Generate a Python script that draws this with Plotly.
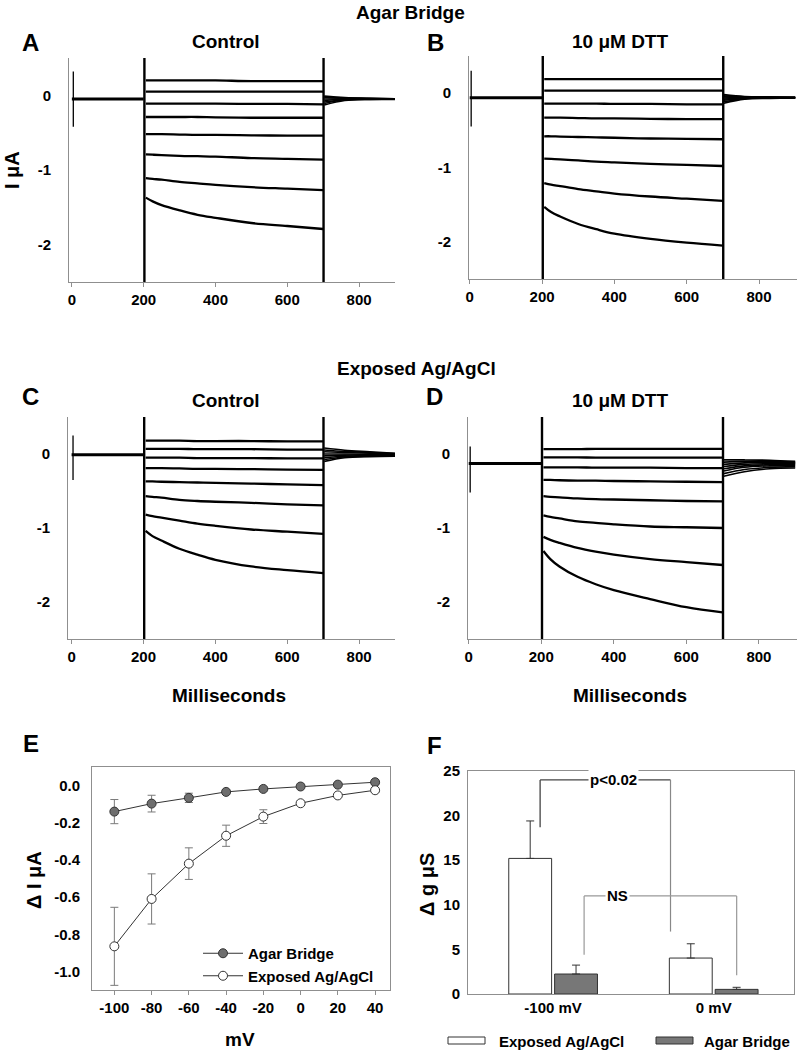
import plotly.graph_objects as go

W, H = 798, 1054
FONT = "Liberation Sans"

# ---------------- data: current traces (µA) ----------------
T_BASE = [0, 200]
T_STEP = [206, 225, 250, 300, 350, 400, 500, 600, 700]
T_TAIL = [703, 760, 830, 900]
T_SPIKE_SMALL = 4
T_SPIKE_ON = 202
T_SPIKE_OFF = 701

A_BASE = -0.05
A_SPIKE = [0.32, -0.42]
A_STEP = [
    [0.20, 0.20, 0.20, 0.20, 0.20, 0.20, 0.19, 0.19, 0.19],
    [0.05, 0.05, 0.05, 0.05, 0.05, 0.05, 0.05, 0.05, 0.05],
    [-0.11, -0.11, -0.11, -0.11, -0.11, -0.11, -0.115, -0.115, -0.12],
    [-0.29, -0.29, -0.29, -0.29, -0.29, -0.295, -0.30, -0.30, -0.30],
    [-0.52, -0.52, -0.52, -0.525, -0.53, -0.53, -0.535, -0.54, -0.54],
    [-0.79, -0.795, -0.80, -0.81, -0.815, -0.82, -0.84, -0.85, -0.86],
    [-1.11, -1.12, -1.13, -1.16, -1.18, -1.20, -1.23, -1.25, -1.27],
    [-1.37, -1.42, -1.47, -1.54, -1.60, -1.64, -1.71, -1.75, -1.79],
]
A_TAIL = [
    [-0.01, -0.03, -0.04, -0.045],
    [-0.02, -0.035, -0.04, -0.045],
    [-0.03, -0.04, -0.045, -0.045],
    [-0.05, -0.045, -0.045, -0.05],
    [-0.07, -0.05, -0.05, -0.05],
    [-0.09, -0.055, -0.05, -0.05],
    [-0.11, -0.06, -0.055, -0.05],
    [-0.13, -0.07, -0.055, -0.055],
]

B_BASE = -0.06
B_SPIKE = [0.30, -0.45]
B_STEP = [
    [0.19, 0.19, 0.19, 0.19, 0.19, 0.19, 0.19, 0.19, 0.19],
    [0.035, 0.035, 0.035, 0.035, 0.035, 0.035, 0.035, 0.035, 0.035],
    [-0.14, -0.14, -0.14, -0.14, -0.14, -0.145, -0.145, -0.15, -0.15],
    [-0.33, -0.33, -0.33, -0.335, -0.34, -0.34, -0.345, -0.35, -0.35],
    [-0.58, -0.58, -0.585, -0.59, -0.595, -0.60, -0.61, -0.615, -0.62],
    [-0.88, -0.885, -0.89, -0.905, -0.92, -0.93, -0.95, -0.965, -0.98],
    [-1.21, -1.23, -1.25, -1.29, -1.32, -1.35, -1.39, -1.42, -1.45],
    [-1.53, -1.60, -1.66, -1.76, -1.83, -1.89, -1.96, -2.01, -2.05],
]
B_TAIL = [
    [-0.02, -0.045, -0.05, -0.055],
    [-0.035, -0.05, -0.055, -0.055],
    [-0.05, -0.055, -0.06, -0.06],
    [-0.065, -0.06, -0.06, -0.06],
    [-0.08, -0.065, -0.06, -0.06],
    [-0.095, -0.07, -0.065, -0.065],
    [-0.115, -0.075, -0.065, -0.065],
    [-0.135, -0.08, -0.07, -0.065],
]

C_BASE = -0.01
C_SPIKE = [0.25, -0.35]
C_STEP = [
    [0.18, 0.18, 0.18, 0.18, 0.175, 0.175, 0.175, 0.17, 0.17],
    [0.07, 0.07, 0.07, 0.07, 0.065, 0.065, 0.065, 0.06, 0.06],
    [-0.05, -0.05, -0.05, -0.05, -0.055, -0.055, -0.055, -0.06, -0.06],
    [-0.19, -0.19, -0.19, -0.195, -0.20, -0.20, -0.205, -0.21, -0.215],
    [-0.37, -0.37, -0.375, -0.38, -0.385, -0.39, -0.40, -0.41, -0.42],
    [-0.57, -0.58, -0.59, -0.62, -0.635, -0.645, -0.66, -0.68, -0.695],
    [-0.82, -0.84, -0.86, -0.90, -0.94, -0.97, -1.02, -1.05, -1.08],
    [-1.04, -1.11, -1.17, -1.28, -1.36, -1.43, -1.52, -1.57, -1.61],
]
C_TAIL = [
    [0.08, 0.05, 0.03, 0.01],
    [0.055, 0.035, 0.02, 0.005],
    [0.03, 0.02, 0.01, 0.0],
    [0.0, 0.0, -0.005, -0.01],
    [-0.025, -0.015, -0.015, -0.015],
    [-0.05, -0.03, -0.025, -0.02],
    [-0.075, -0.04, -0.03, -0.025],
    [-0.10, -0.05, -0.035, -0.03],
]

D_BASE = -0.13
D_SPIKE = [0.10, -0.52]
D_STEP = [
    [0.065, 0.065, 0.065, 0.065, 0.07, 0.07, 0.07, 0.07, 0.07],
    [-0.045, -0.045, -0.045, -0.045, -0.05, -0.05, -0.05, -0.05, -0.05],
    [-0.18, -0.18, -0.18, -0.18, -0.185, -0.185, -0.185, -0.19, -0.19],
    [-0.35, -0.35, -0.355, -0.36, -0.36, -0.365, -0.37, -0.375, -0.38],
    [-0.57, -0.58, -0.585, -0.60, -0.61, -0.615, -0.625, -0.635, -0.64],
    [-0.83, -0.85, -0.87, -0.91, -0.93, -0.95, -0.98, -0.99, -1.00],
    [-1.12, -1.16, -1.20, -1.27, -1.32, -1.36, -1.42, -1.46, -1.50],
    [-1.31, -1.42, -1.52, -1.66, -1.76, -1.84, -1.96, -2.07, -2.14],
]
D_TAIL = [
    [-0.08, -0.08, -0.085, -0.10],
    [-0.11, -0.10, -0.10, -0.11],
    [-0.14, -0.12, -0.115, -0.12],
    [-0.17, -0.14, -0.13, -0.13],
    [-0.20, -0.16, -0.145, -0.14],
    [-0.23, -0.18, -0.16, -0.155],
    [-0.265, -0.21, -0.18, -0.17],
    [-0.30, -0.24, -0.20, -0.19],
]

TRACE_X_TICKS = [0, 200, 400, 600, 800]
TRACE_Y_TICKS = [0, -1, -2]
TRACE_Y_LABELS = ["0", "-1", "-2"]

# ---------------- data: panel E (ΔI vs V) ----------------
E_MV = [-100, -80, -60, -40, -20, 0, 20, 40]
E_AGAR = [-0.14, -0.097, -0.066, -0.034, -0.018, -0.005, 0.005, 0.018]
E_AGAR_ERR = [0.065, 0.045, 0.025, 0.008, 0.006, 0.005, 0.005, 0.005]
E_EXPOSED = [-0.865, -0.61, -0.42, -0.27, -0.167, -0.095, -0.053, -0.025]
E_EXPOSED_ERR = [0.21, 0.135, 0.085, 0.057, 0.037, 0.01, 0.01, 0.01]
E_X_TICKS = [-100, -80, -60, -40, -20, 0, 20, 40]
E_X_LABELS = ["-100", "-80", "-60", "-40", "-20", "0", "20", "40"]
E_Y_TICKS = [0.0, -0.2, -0.4, -0.6, -0.8, -1.0]
E_Y_LABELS = ["0.0", "-0.2", "-0.4", "-0.6", "-0.8", "-1.0"]

# ---------------- data: panel F (Δg bars) ----------------
F_CATS = ["-100 mV", "0 mV"]
F_POS = [0, 1]
F_EXPOSED = [15.2, 4.03]
F_EXPOSED_ERR = [4.2, 1.6]
F_AGAR = [2.24, 0.52]
F_AGAR_ERR = [1.0, 0.23]
F_Y_TICKS = [0, 5, 10, 15, 20, 25]
F_SERIES = ["Exposed Ag/AgCl", "Agar Bridge"]
F_COLORS = ["white", "#777777"]


def fx(px):
    return px / W


def fy(py):
    return 1 - py / H


fig = go.Figure()

AX_LINE = "#8f8f8f"
TICKFONT = dict(family=FONT, size=15, color="black", weight=700)

panels = [
    ("A", A_BASE, A_SPIKE, A_STEP, A_TAIL, (69, 395), (58, 282), [-8, 900]),
    ("B", B_BASE, B_SPIKE, B_STEP, B_TAIL, (469, 797), (56, 279), [-2, 905]),
    ("C", C_BASE, C_SPIKE, C_STEP, C_TAIL, (68, 395), (417, 639), [-10, 900]),
    ("D", D_BASE, D_SPIKE, D_STEP, D_TAIL, (468, 797), (417, 639), [-2, 905]),
]

layout_axes = {}
for i, (name, base, spike, steps, tails, (x0, x1), (y0, y1), xr) in enumerate(panels):
    n = i + 1
    xa = "x" if n == 1 else f"x{n}"
    ya = "y" if n == 1 else f"y{n}"
    fig.add_trace(go.Scatter(x=T_BASE, y=[base, base], mode="lines",
                             line=dict(color="black", width=3), xaxis=xa, yaxis=ya,
                             showlegend=False, hoverinfo="skip"))
    for s, tl in zip(steps, tails):
        fig.add_trace(go.Scatter(x=T_STEP, y=s, mode="lines", line=dict(color="black", width=2.3, shape="spline"),
                                 xaxis=xa, yaxis=ya, showlegend=False, hoverinfo="skip"))
        fig.add_trace(go.Scatter(x=T_TAIL, y=tl, mode="lines", line=dict(color="black", width=1.6, shape="spline"),
                                 xaxis=xa, yaxis=ya, showlegend=False, hoverinfo="skip"))
    fig.add_trace(go.Scatter(x=[T_SPIKE_SMALL, T_SPIKE_SMALL], y=spike, mode="lines",
                             line=dict(color="black", width=1.3), xaxis=xa, yaxis=ya,
                             showlegend=False, hoverinfo="skip"))
    fig.add_trace(go.Scatter(x=[T_SPIKE_ON, T_SPIKE_ON, None, T_SPIKE_OFF, T_SPIKE_OFF],
                             y=[0.6, -2.6, None, 0.6, -2.6], mode="lines",
                             line=dict(color="black", width=2.4), xaxis=xa, yaxis=ya,
                             showlegend=False, hoverinfo="skip"))
    layout_axes["xaxis" if n == 1 else f"xaxis{n}"] = dict(
        domain=[fx(x0), fx(x1)], anchor=ya, range=xr, tickvals=TRACE_X_TICKS,
        showline=True, linecolor=AX_LINE, linewidth=1, ticks="outside", ticklen=4,
        tickcolor=AX_LINE, showgrid=False, zeroline=False, tickfont=TICKFONT, automargin=False)
    layout_axes["yaxis" if n == 1 else f"yaxis{n}"] = dict(
        domain=[fy(y1), fy(y0)], anchor=xa, range=[-2.5, 0.5], tickvals=TRACE_Y_TICKS,
        ticktext=TRACE_Y_LABELS, showline=True, linecolor=AX_LINE, linewidth=1,
        ticks="", showgrid=False, zeroline=False, tickfont=TICKFONT, ticklabelstandoff=14,
        automargin=False)

# ---------------- panel E ----------------
fig.add_trace(go.Scatter(
    x=E_MV, y=E_AGAR, mode="lines+markers", name="Agar Bridge",
    line=dict(color="#333333", width=1),
    marker=dict(size=9, color="#6e6e6e", line=dict(color="#333333", width=1)),
    error_y=dict(type="data", array=E_AGAR_ERR, color="#7a7a7a", thickness=1, width=4),
    xaxis="x5", yaxis="y5", legend="legend2", hoverinfo="skip"))
fig.add_trace(go.Scatter(
    x=E_MV, y=E_EXPOSED, mode="lines+markers", name="Exposed Ag/AgCl",
    line=dict(color="#333333", width=1),
    marker=dict(size=9, color="white", line=dict(color="#333333", width=1)),
    error_y=dict(type="data", array=E_EXPOSED_ERR, color="#7a7a7a", thickness=1, width=4),
    xaxis="x5", yaxis="y5", legend="legend2", hoverinfo="skip"))

layout_axes["xaxis5"] = dict(
    domain=[fx(92), fx(390)], anchor="y5", range=[-112, 48], tickvals=E_X_TICKS,
    ticktext=E_X_LABELS, showline=True, mirror=True, linecolor=AX_LINE, linewidth=1,
    ticks="outside", ticklen=4, tickcolor=AX_LINE, showgrid=False, zeroline=False,
    tickfont=TICKFONT, tickangle=0, automargin=False)
layout_axes["yaxis5"] = dict(
    domain=[fy(990), fy(767)], anchor="x5", range=[-1.1, 0.1], tickvals=E_Y_TICKS,
    ticktext=E_Y_LABELS, showline=True, mirror=True, linecolor=AX_LINE, linewidth=1,
    ticks="", showgrid=False, zeroline=False, tickfont=TICKFONT, ticklabelstandoff=8,
    automargin=False)

# ---------------- panel F ----------------
fig.add_trace(go.Bar(
    x=F_POS, y=F_EXPOSED, name=F_SERIES[0],
    marker=dict(color=F_COLORS[0], line=dict(color="#333333", width=1)),
    error_y=dict(type="data", symmetric=False, array=F_EXPOSED_ERR, arrayminus=[0, 0],
                 color="#333333", thickness=1, width=4),
    xaxis="x6", yaxis="y6", showlegend=False, hoverinfo="skip"))
fig.add_trace(go.Bar(
    x=F_POS, y=F_AGAR, name=F_SERIES[1],
    marker=dict(color=F_COLORS[1], line=dict(color="#333333", width=1)),
    error_y=dict(type="data", symmetric=False, array=F_AGAR_ERR, arrayminus=[0, 0],
                 color="#333333", thickness=1, width=4),
    xaxis="x6", yaxis="y6", showlegend=False, hoverinfo="skip"))

layout_axes["xaxis6"] = dict(
    domain=[fx(468), fx(794)], anchor="y6", range=[-0.53, 1.5], tickvals=F_POS,
    ticktext=F_CATS, showline=True, mirror=True, linecolor=AX_LINE, linewidth=1,
    ticks="", showgrid=False, zeroline=False, tickfont=TICKFONT, tickangle=0, automargin=False)
layout_axes["yaxis6"] = dict(
    domain=[fy(994), fy(771)], anchor="x6", range=[0, 25], tickvals=F_Y_TICKS,
    showline=True, mirror=True, linecolor=AX_LINE, linewidth=1,
    ticks="", showgrid=False, zeroline=False, tickfont=TICKFONT, ticklabelstandoff=4,
    automargin=False)

shapes = []
def seg(x0, y0, x1, y1, color):
    shapes.append(dict(type="line", xref="x6", yref="y6", x0=x0, y0=y0, x1=x1, y1=y1,
                       line=dict(color=color, width=1.2)))

# significance brackets
seg(-0.081, 18.7, -0.081, 24.0, "#333333")
seg(-0.081, 24.0, 0.731, 24.0, "#444444")
seg(0.731, 24.0, 0.731, 7.0, "#888888")
seg(0.193, 4.4, 0.193, 11.0, "#999999")
seg(0.193, 11.0, 1.143, 11.0, "#999999")
seg(1.143, 11.0, 1.143, 2.1, "#999999")

ann = []
def txt(text, x, y, size, **kw):
    d = dict(text=text, x=fx(x), y=fy(y), xref="paper", yref="paper", showarrow=False,
             font=dict(family=FONT, size=size, color="black", weight=700),
             xanchor="center", yanchor="middle")
    d.update(kw)
    ann.append(d)

# legend for panel F (wide flat swatches like the original)
for (sx0, sx1, tx), name, col in zip([(448, 485, 497), (656, 693, 702)], F_SERIES, F_COLORS):
    shapes.append(dict(type="rect", xref="paper", yref="paper", x0=fx(sx0), x1=fx(sx1),
                       y0=fy(1044), y1=fy(1037), fillcolor=col,
                       line=dict(color="#333333", width=1)))
    txt(name, tx, 1041, 15, xanchor="left")

txt("Agar Bridge", 410, 13, 19)
txt("A", 30, 43, 24)
txt("B", 435, 43, 24)
txt("Control", 226, 41, 19)
txt("10 μM DTT", 620, 42, 19)
txt("I μA", 12, 170, 20, textangle=-90)
txt("Exposed Ag/AgCl", 416, 368, 19)
txt("C", 30, 396, 24)
txt("D", 434, 396, 24)
txt("Control", 226, 400, 19)
txt("10 μM DTT", 620, 400, 19)
txt("Milliseconds", 229, 695, 19)
txt("Milliseconds", 630, 695, 19)
txt("E", 31, 743, 24)
txt("F", 434, 745, 24)
txt("Δ I μA", 34, 880, 20, textangle=-90)
txt("mV", 240, 1039, 19)
txt("Δ g μS", 427, 885, 20, textangle=-90)

ann.append(dict(text="p<0.02", x=0.373, y=24.0, xref="x6", yref="y6", showarrow=False,
                bgcolor="white", borderpad=1,
                font=dict(family=FONT, size=15, color="black", weight=700)))
ann.append(dict(text="NS", x=0.398, y=11.0, xref="x6", yref="y6", showarrow=False,
                bgcolor="white", borderpad=1,
                font=dict(family=FONT, size=15, color="black", weight=700)))

fig.update_layout(
    width=W, height=H, margin=dict(l=0, r=0, t=0, b=0, pad=0, autoexpand=False),
    paper_bgcolor="white", plot_bgcolor="white",
    font=dict(family=FONT, color="black"),
    barmode="group", bargap=0.429, bargroupgap=0.065,
    shapes=shapes, annotations=ann,
    showlegend=True,
    legend2=dict(x=fx(198), y=fy(937), xanchor="left", yanchor="top",
                 bgcolor="rgba(0,0,0,0)", font=dict(family=FONT, size=15, color="black", weight=700),
                 tracegroupgap=0, itemwidth=40),
    **layout_axes,
)

fig.write_html("out.html", config={"displayModeBar": False, "responsive": False},
               post_script="document.body.style.margin='0';document.body.style.overflow='hidden';")
